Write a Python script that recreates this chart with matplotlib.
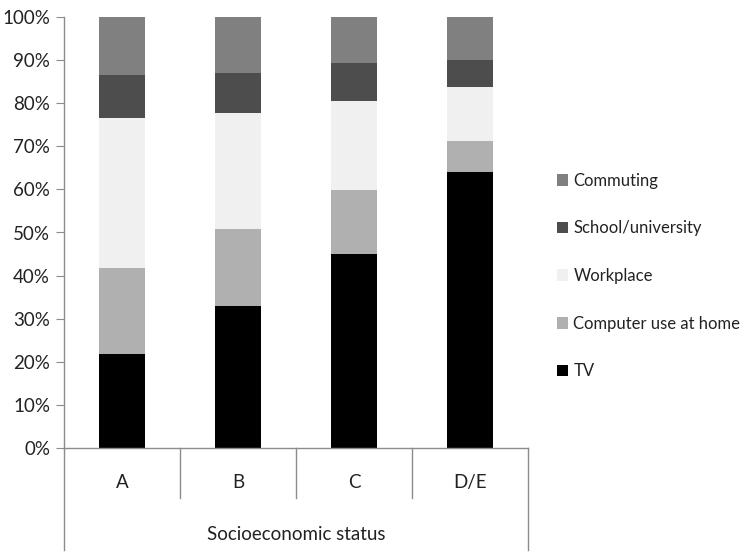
import matplotlib
matplotlib.use("Agg")
import matplotlib.pyplot as plt
import numpy as np

plt.rcParams['font.family'] = ['Lato', 'DejaVu Sans']

categories = ["A", "B", "C", "D/E"]
series_names = ["TV", "Computer use at home", "Workplace", "School/university", "Commuting"]
tv = [21.7, 32.9, 45.0, 64.0]
computer = [20.0, 17.8, 14.9, 7.2]
workplace = [34.8, 27.0, 20.5, 12.6]
school = [10.0, 9.2, 8.9, 6.2]
commuting = [13.5, 13.1, 10.7, 10.0]
colors = ["#000000", "#b0b0b0", "#f0f0f0", "#4d4d4d", "#808080"]
yticklabels = ["0%", "10%", "20%", "30%", "40%", "50%", "60%", "70%", "80%", "90%", "100%"]

fig = plt.figure(figsize=(7.47, 5.59), dpi=100)
ax = fig.add_axes([64/747, 1-448/559, (528-64)/747, (448-17)/559])

x = np.arange(len(categories)) + 0.5
bottom = np.zeros(len(categories))
handles = []
for vals, name, c in zip([tv, computer, workplace, school, commuting], series_names, colors):
    h = ax.bar(x, vals, width=0.39, bottom=bottom, color=c, label=name, linewidth=0)
    handles.append(h)
    bottom += np.array(vals)

ax.set_xlim(0, 4)
ax.set_ylim(0, 100)
ax.set_yticks(np.arange(0, 101, 10))
ax.set_yticklabels(yticklabels, fontsize=13.5, color="#222222")
ax.set_xticks([])
for s in ["top", "right"]:
    ax.spines[s].set_visible(False)
for s in ["left", "bottom"]:
    ax.spines[s].set_color("#8c8c8c")
    ax.spines[s].set_linewidth(1)
ax.tick_params(axis="y", length=6, color="#8c8c8c", pad=4)

trans = ax.get_xaxis_transform()
for xv in [1, 2, 3]:
    ax.plot([xv, xv], [0, -0.116], transform=trans, color="#8c8c8c", lw=1, clip_on=False)
for xv in [0, 4]:
    ax.plot([xv, xv], [0, -0.237], transform=trans, color="#8c8c8c", lw=1, clip_on=False)
for xi, lab in zip(x, categories):
    ax.text(xi, -0.081, lab, transform=trans, ha="center", va="center", fontsize=13.5, color="#222222")
ax.text(2, -0.2, "Socioeconomic status", transform=trans, ha="center", va="center", fontsize=13.5, color="#222222")

leg = fig.legend(handles[::-1], series_names[::-1], loc="upper left",
                 bbox_to_anchor=(550/747, 1-166/559), frameon=False, fontsize=12,
                 handlelength=0.7, handleheight=0.7, handletextpad=0.3, labelspacing=1.9,
                 borderaxespad=0)
for t in leg.get_texts():
    t.set_color("#222222")

fig.savefig("out.png", dpi=100)
